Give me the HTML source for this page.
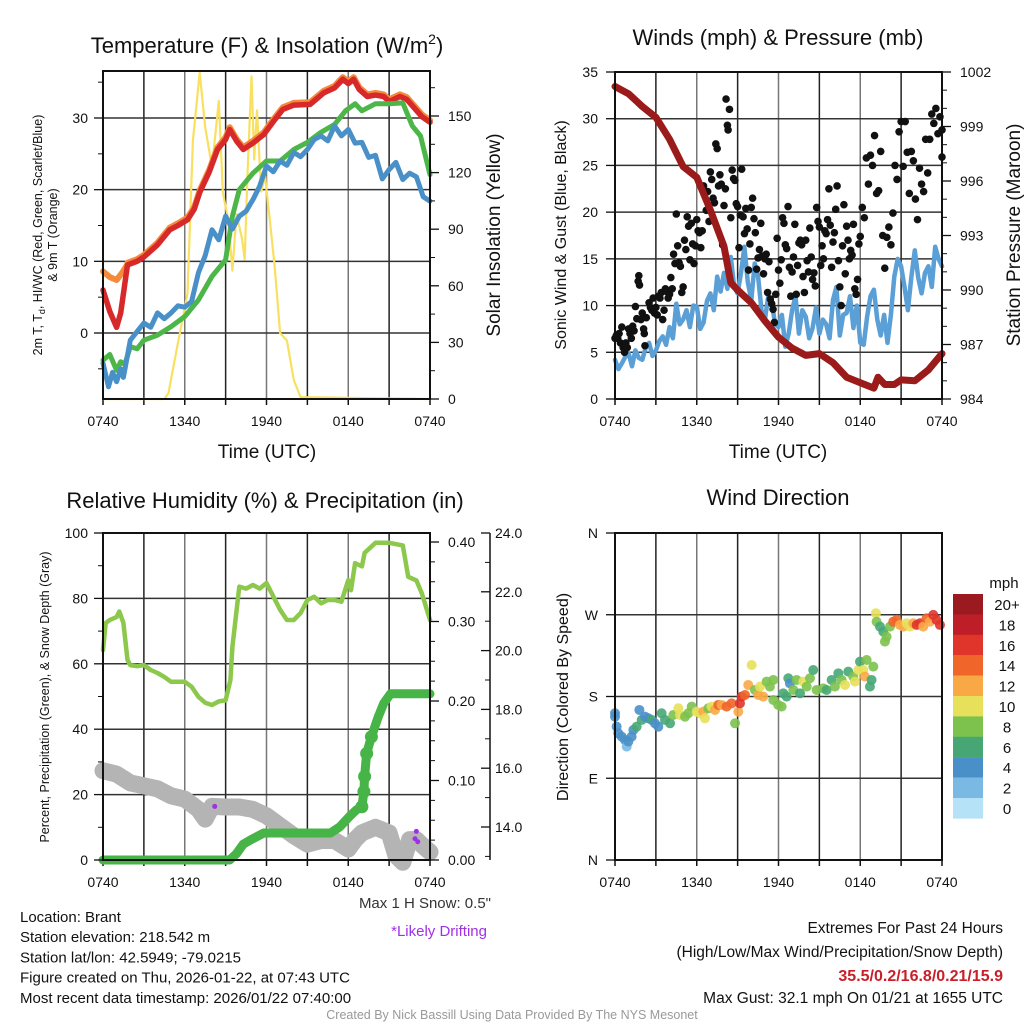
<!DOCTYPE html>
<html><head><meta charset="utf-8"><style>
html,body{margin:0;padding:0;background:#fff;}
svg{display:block;font-family:"Liberation Sans",sans-serif;}
</style></head><body>
<svg id="chart" width="1024" height="1024" viewBox="0 0 1024 1024" xmlns="http://www.w3.org/2000/svg"></svg>
<script>
// ---------- DATA ----------
const xTickLabels=["0740","1340","1940","0140","0740"];
// Panel 1: temperature (F) & insolation
const redT=[0,0.5,1,1.3,1.8,2.5,3,4,4.9,5.5,6.2,6.7,7.1,7.8,8.4,9,9.3,9.8,10.3,11,11.8,12.5,13.2,14,15.2,15.7,16.2,17,17.6,18,18.4,18.8,19.4,20,20.6,21,21.8,22.3,22.8,23.4,24];
const redV=[6.0,3.0,0.8,2.8,9.5,10.0,10.6,12.3,14.4,15.0,15.8,17.3,19.6,22.5,25.6,27.0,28.4,26.8,25.6,26.5,27.7,29.5,31.2,31.8,31.9,32.7,33.5,34.2,35.4,34.8,35.4,34.0,33.0,33.2,33.0,32.3,33.0,32.6,31.5,30.2,29.4];
const orangeT=[0,0.5,1,1.4,1.8];
const orangeV=[8.6,7.8,7.4,8.4,9.6];
const greenT=[0,0.5,1,1.3,1.6,2,2.5,3,4,5,6,7,8,9,9.5,10,11,12,13,14,15,16,17,17.8,18.5,19,20,21,22,22.7,23.3,24];
const greenV=[-3.8,-3.0,-5.2,-4.0,-4.4,-1.9,-2.2,-1.0,-0.3,0.9,2.3,4.6,7.9,10.2,16.3,20.0,22.3,24.0,24.0,25.6,26.6,28.0,29.1,31.0,32.0,31.0,32.0,32.0,32.1,28.9,27.5,22.1];
const blueT=[0,0.4,0.7,1,1.3,1.5,2,2.5,3,3.5,4,4.5,5,5.5,6,6.5,7,7.5,8,8.5,9,9.5,10,10.5,11,11.5,12,12.5,13,13.5,14,14.5,15,15.5,16,16.5,17,17.5,18,18.5,19,19.5,20,20.5,21,21.5,22,22.5,23,23.5,24];
const blueV=[-4.2,-7.5,-5.5,-6.8,-5.0,-6.2,-1.0,0.2,1.4,0.8,2.8,2.0,2.8,3.8,3.6,4.4,8.4,10.8,14.4,13.0,16.3,14.5,16.3,17.0,18.6,20.5,23.3,22.5,24.0,23.4,25.2,24.6,25.6,27.0,27.5,26.8,28.9,27.5,28.4,26.5,26.6,24.5,24.8,21.5,22.8,23.8,21.4,22.3,21.8,19.0,18.4];
const solarT=[0,4.5,4.8,5.4,6.2,6.6,7.1,7.5,8,8.5,8.8,9.2,9.5,9.8,10.2,10.4,10.6,10.9,11.1,11.3,11.6,11.9,12.3,12.6,13,13.5,14,14.5,24];
const solarV=[0,0,3,26,56,137,173,144,123,158,109,95,68,98,85,74,118,171,127,153,110,118,91,70,35,31,10,1,0];
// Panel 2: winds & pressure
const presT=[0,1,2,3,4,5,6,7,8,8.5,9,10,11,12,13,14,15,16,17,18,19,19.3,19.8,20.5,21,22,23,24];
const presV=[1001.2,1000.8,1000.1,999.5,998.3,996.8,996.2,994.4,992.4,990.4,990.0,989.3,988.3,987.4,986.8,986.4,986.5,986.0,985.2,984.9,984.6,985.2,984.8,984.8,985.05,985.0,985.6,986.5];
const windT=[0,0.25,0.5,0.75,1,1.25,1.5,1.75,2,2.25,2.5,2.75,3,3.25,3.5,3.75,4,4.25,4.5,4.75,5,5.25,5.5,5.75,6,6.25,6.5,6.75,7,7.25,7.5,7.75,8,8.25,8.5,8.75,9,9.25,9.5,9.75,10,10.25,10.5,10.75,11,11.25,11.5,11.75,12,12.25,12.5,12.75,13,13.25,13.5,13.75,14,14.25,14.5,14.75,15,15.25,15.5,15.75,16,16.25,16.5,16.75,17,17.25,17.5,17.75,18,18.25,18.5,18.75,19,19.25,19.5,19.75,20,20.25,20.5,20.75,21,21.25,21.5,21.75,22,22.25,22.5,22.75,23,23.25,23.5,23.75,24];
const windV=[4.2,3.2,3.8,4.5,4.9,3.5,5.2,4.4,4.2,5.5,6.0,4.6,5.2,6.2,6.7,5.8,7.7,6.5,10.2,8.0,8.5,9.5,7.7,10,9.9,7.5,8.2,10.5,11.3,9.5,13.1,11.5,13.5,11.8,15.2,12,11.3,13.5,16.3,12.5,10.6,14.5,13.1,9.5,8.5,11,10.5,8,7.7,9,5.6,7,9.5,11,7.0,9.5,8.8,6.5,7.6,9.8,7.0,8.5,8.0,6.5,10.6,12,6.8,9,9.2,11,7.6,10,6.0,5.8,8.8,11,11.7,8.5,6.8,9,6.0,9,13.1,15,14.2,12,9.5,13,15.9,13,11.3,13.5,14.2,12,16.3,15,14.2];
const gustT=[0,0.1,0.2,0.3,0.4,0.5,0.6,0.7,0.8,0.9,1,1.1,1.2,1.3,1.4,1.5,1.6,1.7,1.75,1.8,1.9,2,2.1,2.15,2.2,2.3,2.5,2.6,2.7,2.8,2.9,3,3.1,3.2,3.3,3.4,3.5,3.6,3.7,3.8,3.9,4,4.1,4.2,4.3,4.4,4.5,4.6,4.7,4.8,4.9,5,5.1,5.2,5.3,5.4,5.5,5.6,5.7,5.8,5.9,6,6.1,6.2,6.3,6.4,6.5,6.6,6.7,6.8,6.9,7,7.1,7.2,7.3,7.4,7.5,7.6,7.7,7.8,7.9,8,8.1,8.15,8.25,8.3,8.4,8.5,8.6,8.7,8.8,8.9,9,9.1,9.2,9.3,9.4,9.5,9.6,9.7,9.8,9.9,10,10.1,10.2,10.3,10.4,10.5,10.6,10.7,10.8,10.9,11,11.1,11.2,11.3,11.4,11.5,11.6,11.7,11.8,11.9,12,12.1,12.2,12.3,12.4,12.5,12.6,12.7,12.8,12.9,13,13.1,13.2,13.3,13.4,13.5,13.6,13.7,13.8,13.9,14,14.1,14.2,14.3,14.4,14.5,14.6,14.7,14.8,14.9,15,15.1,15.2,15.3,15.4,15.5,15.6,15.7,15.8,15.9,16,16.1,16.2,16.3,16.4,16.5,16.6,16.7,16.8,16.9,17,17.1,17.2,17.3,17.4,17.5,17.6,17.7,17.8,17.9,18,18.15,18.3,18.45,18.6,18.75,18.9,19.05,19.2,19.35,19.5,19.65,19.8,19.95,20.1,20.25,20.4,20.55,20.7,20.85,21,21.15,21.3,21.45,21.6,21.75,21.9,22.05,22.2,22.35,22.5,22.65,22.8,22.95,23.1,23.25,23.4,23.55,23.7,23.85,24,24];
const gustV=[6.5,6.8,6.5,7,6,7.7,5.5,5,6,5.5,7.5,7,6.5,7.8,7.3,9.9,8.6,12.6,13.2,12.2,8.5,9.2,7.5,7,5.7,8.7,10.3,9.8,9.5,10.8,9.2,9.8,9,11,10.8,11.4,8.5,9.5,11.8,11.5,10.8,11.2,13,11.8,15.5,14.5,19.8,16.4,14.6,14.2,11.4,12,17,16,19.5,18.5,14.9,18.8,16.6,14.5,16.4,19.2,18,17.8,16.2,18,22.8,22,20.2,22.2,19,24.3,23.5,21.5,21,27.3,26.8,22.8,24,23,16.5,20.7,22.5,32.1,29.3,28.8,31,19.4,24.5,23.6,23.4,20.9,20.6,16.2,19.7,24.6,19.5,17.7,20.4,18.2,13.8,16.6,20.5,21.5,19.3,17.8,13.9,15.1,16,18.8,15.3,13.4,15,15.5,11.4,14.7,10.7,10.2,9.6,8.2,11.2,17.2,13.8,12.4,14.9,19.4,18.8,16.5,16.1,20.6,14.1,11,13.6,15.2,18.7,11.2,14.3,16.7,17,16.5,13.1,11.4,17,14.8,13.6,18.3,15.2,12.8,13.5,12.1,20.5,19,18.4,14.3,16.4,15,18,17.7,19.2,22.5,18.6,14.1,16.8,17.8,20.3,22.8,14.8,12,10,16.4,20.8,13.4,18.5,17,15,15.9,15.4,18.7,11.8,11.2,12.8,16.6,17.4,20.5,19.4,25.8,23,26.1,25,28.2,22,22.3,26.5,17.5,14,17.3,18.4,16.5,19.9,25,23.5,28.6,29.7,24.9,29.7,26.4,22,26.5,25.5,21.4,19.2,24.7,23,22.2,27.8,24.2,27.8,30.5,29.5,31.1,28.4,30.2,28.8,25.9];
// Panel 3: RH, precipitation, snow depth
const rhT=[0,0.2,0.5,1,1.2,1.5,1.8,2,2.5,3,3.5,4,4.5,5,6,6.5,7,7.5,8,8.5,9,9.35,9.5,10,10.5,11,11.5,12,13,13.5,14,14.5,15,15.5,16,16.5,17,17.5,18,18.2,18.5,19,19.2,20,21,22,22.4,23,23.4,24];
const rhV=[64.2,72.5,73.4,74.3,76.0,72.5,61.2,59.6,59.3,59.6,58.1,57.2,56.0,54.5,54.5,53.0,49.9,48.1,47.4,48.5,48.8,55.0,65.2,83.6,83.0,84.1,83.0,84.7,76.5,73.4,73.4,75.5,79.5,80.5,78.5,79.5,79.5,79.0,85.6,82.5,90.8,89.8,93.9,97.0,97.0,96.2,86.6,85.5,81.6,73.4];
const precipT=[0,9.3,9.8,10.3,10.8,11.8,13,15,16.7,17.4,18.1,18.6,19.0,19.15,19.2,19.35,19.7,20.2,20.6,21.1,24];
const precipV=[0,0,0.008,0.020,0.025,0.034,0.034,0.034,0.034,0.042,0.055,0.063,0.067,0.086,0.105,0.134,0.155,0.180,0.197,0.209,0.209];
const snowT=[0,1,2,3,4,5,6,7,7.5,8,9,10,11,12,13,14,15,16,17,18,18.5,19,20,21,21.5,22,22.5,23,23.5,24];
const snowV=[15.91,15.8,15.5,15.4,15.3,15.06,14.95,14.6,14.27,14.7,14.68,14.68,14.6,14.38,14.04,13.7,13.42,13.54,13.54,13.25,13.57,13.8,13.99,13.8,13.03,12.8,13.57,13.57,13.35,13.15];
const driftT=[8.2,22.9,23.0,23.1];
const driftV=[14.7,13.6,13.85,13.5];
// Panel 4: wind direction colored by speed
const dirT=[0,0,0.12,0.24,0.49,0.73,0.86,0.98,1.22,1.35,1.59,1.79,1.96,2.2,2.45,2.69,2.93,3.18,3.42,3.67,4.04,4.28,4.65,4.77,5.14,5.38,5.63,5.99,6.24,6.48,6.6,6.85,7.09,7.34,7.58,7.83,8.19,8.56,8.81,9.05,9.17,9.3,9.54,9.78,10.03,10.27,10.52,10.64,10.88,11.13,11.37,11.62,11.62,11.98,12.23,12.35,12.6,12.72,12.84,13.09,13.33,13.58,13.82,14.07,14.31,14.55,14.8,15.29,15.53,15.9,16.14,16.39,16.63,16.88,17.12,17.49,17.61,17.86,17.98,18.22,18.35,18.47,18.71,18.83,18.96,19.15,19.2,19.45,19.69,19.81,19.93,20.18,20.42,20.67,20.91,21.16,21.4,21.65,21.89,22.14,22.38,22.62,22.87,23.11,23.36,23.6,23.85];
const dirV=[161.5,157.8,146.8,139.5,135.8,132.2,124.8,130.3,135.8,143.2,146.8,165.2,154.2,157.8,156,154.2,150.5,146.8,161.5,154.2,150.5,159.7,167,159.7,157.8,161.5,168.9,163.3,161.5,163.3,156,167,168.9,165.2,170.7,170.7,168.9,172.5,150.5,163.3,172.5,179.9,181.7,192.7,214.7,187.2,181.7,190.9,179.9,196.4,190.9,198.2,176.2,170.7,168.9,183.5,179.9,200.1,194.5,187.2,198.2,183.5,196.4,190.9,200.1,209.2,187.2,189,187.2,198.2,190.9,205.5,198.2,192.7,207.4,201.9,196.4,209.2,218.4,209.2,201.9,220.2,190.9,198.2,212.9,271.6,262.4,256.9,251.4,240.4,245.9,256.9,262.4,264.3,258.8,256.9,260.6,256.9,260.6,258.8,260.6,256.9,266.1,262.4,269.8,264.3,258.8];
const dirSpd=[4,4,4,4,4,4,2,4,4,4,6,4,6,4,4,6,4,4,6,6,6,8,10,10,8,8,8,10,10,12,10,8,10,12,14,12,14,14,8,12,16,16,14,12,10,8,12,10,12,8,8,8,8,8,8,6,6,6,4,8,8,6,10,8,8,6,8,8,6,6,8,6,8,10,6,8,10,10,6,10,12,8,6,6,8,10,8,6,6,8,8,8,14,14,12,12,10,10,12,16,16,12,14,12,16,16,16];
const cbLabels=["20+","18","16","14","12","10","8","6","4","2","0"];
const cbColors=["#9b1a1f","#be1e27","#e0352b","#f06529","#f9a846","#e7e05a","#7cc24d","#47a774","#4a90c8","#7ab9e4","#b5e2f7"];

// ---------- DRAWING ----------
const NS="http://www.w3.org/2000/svg";
const svg=document.getElementById('chart');
function el(tag,attrs,parent,text){const e=document.createElementNS(NS,tag);for(const k in attrs)e.setAttribute(k,attrs[k]);if(text!==undefined)e.textContent=text;(parent||svg).appendChild(e);return e;}
function sx(p,t){return p.x0+t/24*(p.x1-p.x0);}
function sy(v,v0,v1,y0,y1){return y0+(v-v0)/(v1-v0)*(y1-y0);}
function line(p,ts,vs,yf,stroke,w,name){
  const d=ts.map((t,i)=>(i?'L':'M')+sx(p,t).toFixed(1)+','+yf(vs[i]).toFixed(1)).join('');
  const e=el('path',{d:d,fill:'none',stroke:stroke,'stroke-width':w,'stroke-linejoin':'round','stroke-linecap':'round'});
  
  
  return e;
}
function text(x,y,s,size,anchor,extra,name){
  const e=el('text',Object.assign({x:x,y:y,'font-size':size,'text-anchor':anchor||'middle',fill:'#111'},extra||{}),svg,s);
  
  
  return e;
}
function frame(p,name){
  const g=el('g',{});
  
  
  for(let i=1;i<8;i++){const x=p.x0+i*(p.x1-p.x0)/8;el('line',{x1:x,y1:p.y0,x2:x,y2:p.y1,stroke:i%2?'#222':'#777','stroke-width':1.5},g);}
  p.hgrid.forEach(y=>el('line',{x1:p.x0,y1:y,x2:p.x1,y2:y,stroke:'#333','stroke-width':1.5},g));
  for(let i=0;i<=8;i++){const x=p.x0+i*(p.x1-p.x0)/8;el('line',{x1:x,y1:p.y1,x2:x,y2:p.y1+6,stroke:'#111','stroke-width':1.5},g);}
  xTickLabels.forEach((s,i)=>{text(p.x0+i*(p.x1-p.x0)/4,p.y1+27,s,14,'middle',{},'x-tick-label');});
  return g;
}
function box(p){const r=el('rect',{x:p.x0,y:p.y0,width:p.x1-p.x0,height:p.y1-p.y0,fill:'none',stroke:'#111','stroke-width':2});
  }
function yTicks(p,xAxis,dir,vals,yf,labels,lx,anchor,minor,name){
  vals.forEach((v,i)=>{const y=yf(v);el('line',{x1:xAxis,y1:y,x2:xAxis+dir*9,y2:y,stroke:'#111','stroke-width':1.3});
    if(labels)text(lx,y+5,labels[i],14,anchor,{},name);});
  (minor||[]).forEach(v=>{const y=yf(v);el('line',{x1:xAxis,y1:y,x2:xAxis+dir*5,y2:y,stroke:'#111','stroke-width':1});});
}

// ===== Panel 1 =====
const P1={x0:103,x1:430,y0:71,y1:399};
const t1y=v=>sy(v,0,30,333,118);
const s1y=v=>sy(v,0,150,399,116);
P1.hgrid=[0,10,20,30].map(t1y);
frame(P1,'temperature-grid');
line(P1,solarT,solarV,s1y,'#f9e060',2.2,'solar-insolation-line');
line(P1,orangeT.concat(redT.slice(4)),orangeV.concat(redV.slice(4).map(v=>v+0.3)),t1y,'#f58a3a',6,'temp-9m-line');
line(P1,redT,redV,t1y,'#d7282a',5.5,'temp-2m-line');
line(P1,greenT,greenV,t1y,'#4cb649',5,'heat-index-windchill-line');
line(P1,blueT,blueV,t1y,'#4a90c8',5,'dewpoint-line');
box(P1);
yTicks(P1,103,-1,[0,10,20,30],t1y,["0","10","20","30"],88,'end',[-5,5,15,25,35],'temp-y-tick');
yTicks(P1,430,1,[0,30,60,90,120,150],s1y,["0","30","60","90","120","150"],448,'start',[15,45,75,105,135,165],'solar-y-tick');
{const t=el('text',{x:267,y:53,'font-size':22,'text-anchor':'middle',fill:'#111'});
 t.appendChild(document.createTextNode('Temperature (F) & Insolation (W/m'));el('tspan',{'font-size':14,dy:-9},t,'2');el('tspan',{dy:9},t,')');}
{const t=el('text',{transform:'translate(42,235) rotate(-90)','font-size':12.5,'text-anchor':'middle',fill:'#111'});
 t.appendChild(document.createTextNode('2m T, T'));el('tspan',{'font-size':9,dy:3},t,'d');el('tspan',{dy:-3},t,', HI/WC (Red, Green, Scarlet/Blue)');}
text(0,0,'& 9m T (Orange)',12.5,'middle',{transform:'translate(57,235) rotate(-90)'},'temperature-y-axis-title-2');
text(0,0,'Solar Insolation (Yellow)',19,'middle',{transform:'translate(500,235) rotate(-90)'},'solar-y-axis-title');
text(267,458,'Time (UTC)',19,'middle',{},'x-axis-title');

// ===== Panel 2 =====
const P2={x0:615,x1:942,y0:72,y1:399};
const w2y=v=>sy(v,0,35,399,72);
const p2y=v=>sy(v,984,1002,399,72);
P2.hgrid=[5,10,15,20,25,30].map(w2y);
frame(P2,'winds-grid');
line(P2,windT,windV,w2y,'#5a9fd6',4.5,'sonic-wind-line');
gustT.forEach((t,i)=>{const c=el('circle',{cx:sx(P2,t),cy:w2y(gustV[i]),r:3.8,fill:'#111'});
  
  });
line(P2,presT,presV,p2y,'#9b1b1b',7,'pressure-line');
box(P2);
yTicks(P2,615,-1,[0,5,10,15,20,25,30,35],w2y,["0","5","10","15","20","25","30","35"],598,'end',[],'wind-y-tick');
yTicks(P2,942,1,[984,987,990,993,996,999,1002],p2y,["984","987","990","993","996","999","1002"],960,'start',[985,986,988,989,991,992,994,995,997,998,1000,1001],'pressure-y-tick');
text(778,45,'Winds (mph) & Pressure (mb)',22,'middle',{},'winds-title');
text(0,0,'Sonic Wind & Gust (Blue, Black)',16,'middle',{transform:'translate(566,235) rotate(-90)'},'wind-y-axis-title');
text(0,0,'Station Pressure (Maroon)',19,'middle',{transform:'translate(1020,235) rotate(-90)'},'pressure-y-axis-title');
text(778,458,'Time (UTC)',19,'middle',{},'x-axis-title');

// ===== Panel 3 =====
const P3={x0:103,x1:430,y0:533,y1:860};
const r3y=v=>sy(v,0,100,860,533);
const pr3y=v=>sy(v,0,0.4,860,542);
const sn3y=v=>sy(v,24,14,533,827);
P3.hgrid=[20,40,60,80].map(r3y);
frame(P3,'humidity-grid');
line(P3,snowT,snowV,sn3y,'#b4b4b4',17,'snow-depth-line');
line(P3,rhT,rhV,r3y,'#8cc84b',4.5,'relative-humidity-line');
line(P3,precipT,precipV,pr3y,'#46b446',9,'precipitation-line');
precipT.forEach((t,i)=>{if(t>=18.9&&t<=19.8){const c=el('circle',{cx:sx(P3,t),cy:pr3y(precipV[i]),r:6.5,fill:'#46b446'});
  
  }});
driftT.forEach((t,i)=>{const c=el('circle',{cx:sx(P3,t),cy:sn3y(driftV[i]),r:2.5,fill:'#a030e8'});
  
  });
box(P3);
yTicks(P3,103,-1,[0,20,40,60,80,100],r3y,["0","20","40","60","80","100"],88,'end',[10,30,50,70,90],'rh-y-tick');
yTicks(P3,430,1,[0,0.1,0.2,0.3,0.4],pr3y,["0.00","0.10","0.20","0.30","0.40"],448,'start',[0.025,0.05,0.075,0.125,0.15,0.175,0.225,0.25,0.275,0.325,0.35,0.375],'precip-y-tick');
{const a=el('line',{x1:490,y1:533,x2:490,y2:860,stroke:'#111','stroke-width':1.5});}
yTicks(P3,490,-1,[24,22,20,18,16,14],sn3y,["24.0","22.0","20.0","18.0","16.0","14.0"],495,'start',[23,21,19,17,15,13],'snow-y-tick');
text(265,508,'Relative Humidity (%) & Precipitation (in)',22,'middle',{},'humidity-title');
text(0,0,'Percent, Precipitation (Green), & Snow Depth (Gray)',12.5,'middle',{transform:'translate(49,697) rotate(-90)'},'humidity-y-axis-title');

// ===== Panel 4 =====
const P4={x0:615,x1:942,y0:533,y1:860};
const d4y=v=>sy(v,0,360,860,533);
P4.hgrid=[90,180,270].map(d4y);
frame(P4,'direction-grid');
function spdColor(s){const idx=Math.min(10,Math.round(s/2));return cbColors[10-idx];}
dirT.forEach((t,i)=>{const c=el('circle',{cx:sx(P4,t),cy:d4y(dirV[i]),r:5,fill:spdColor(dirSpd[i]),'fill-opacity':0.9});
  
  });
box(P4);
yTicks(P4,615,-1,[0,90,180,270,360],d4y,["N","E","S","W","N"],598,'end',[],'direction-y-tick');
text(778,505,'Wind Direction',22,'middle',{},'direction-title');
text(0,0,'Direction (Colored By Speed)',16,'middle',{transform:'translate(568,697) rotate(-90)'},'direction-y-axis-title');
text(1004,588,'mph',15,'middle',{},'colorbar-title');
cbColors.forEach((c,i)=>{const r=el('rect',{x:953,y:594+i*20.4,width:30,height:20.6,fill:c});
  
  
  text(1007,594+i*20.4+16,cbLabels[i],15,'middle',{},'colorbar-label');});

// ===== Footer text =====
text(491,908,'Max 1 H Snow: 0.5"',15,'end',{fill:'#333'},'max-snow-text');
text(487,936,'*Likely Drifting',15,'end',{fill:'#a030e8'},'drifting-note');
['Location: Brant','Station elevation: 218.542 m','Station lat/lon: 42.5949; -79.0215','Figure created on Thu, 2026-01-22, at 07:43 UTC','Most recent data timestamp: 2026/01/22 07:40:00']
 .forEach((s,i)=>text(20,922+i*20.2,s,15,'start',{},'station-info-line'));
text(1003,933,'Extremes For Past 24 Hours',15.5,'end',{},'extremes-title');
text(1003,957,'(High/Low/Max Wind/Precipitation/Snow Depth)',15.5,'end',{},'extremes-subtitle');
text(1003,981,'35.5/0.2/16.8/0.21/15.9',16,'end',{fill:'#c8202a','font-weight':'bold'},'extremes-values');
text(1003,1003,'Max Gust: 32.1 mph On 01/21 at 1655 UTC',15.5,'end',{},'max-gust-text');
text(512,1019,'Created By Nick Bassill Using Data Provided By The NYS Mesonet',12.5,'middle',{fill:'#999'},'credit-text');
</script>
</body></html>
